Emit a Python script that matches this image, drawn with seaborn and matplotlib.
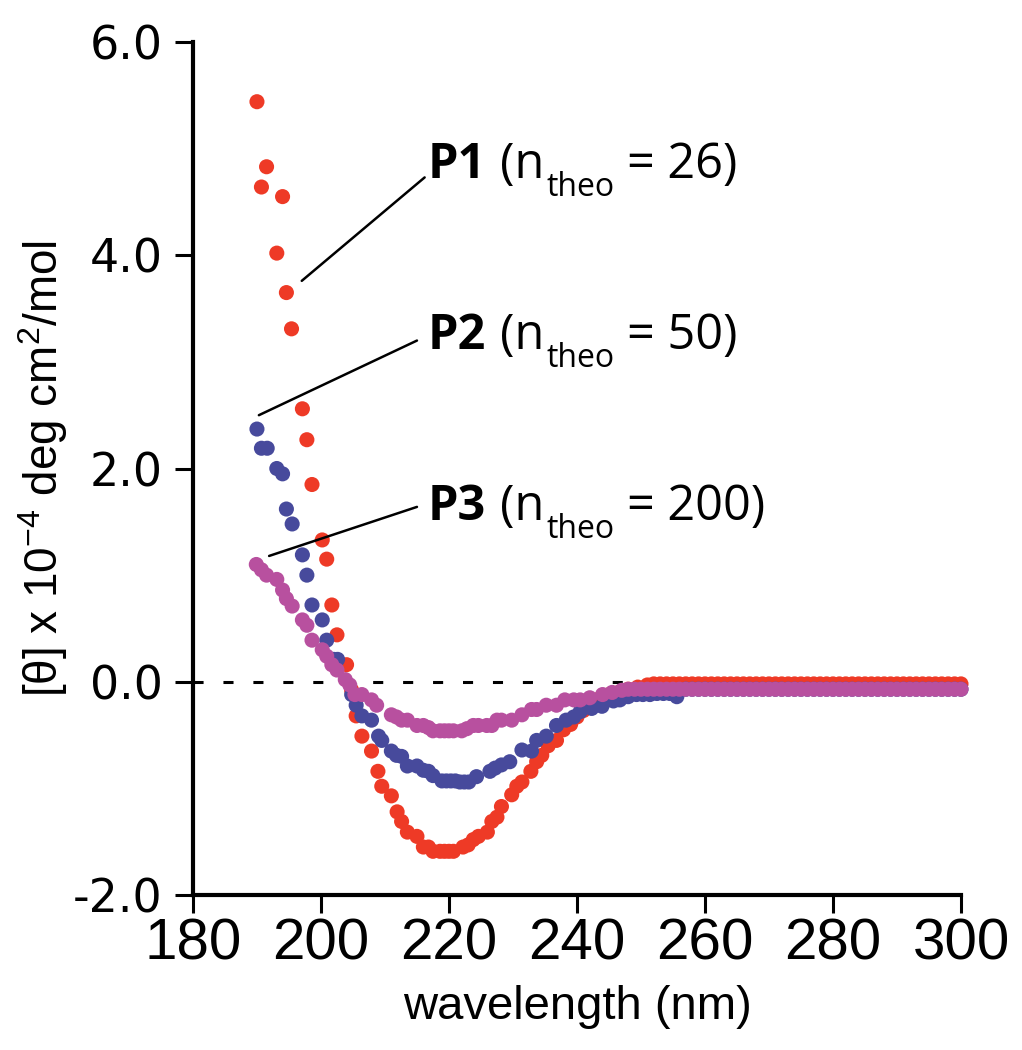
import numpy as np
import pandas as pd
import seaborn as sns
from matplotlib import pyplot as plt
from matplotlib.transforms import offset_copy

# circular dichroism spectra
P1_WL = [190.0, 190.7, 191.5, 193.1, 194.0, 194.6, 195.4, 197.1, 197.8, 198.6,
         200.2, 200.9, 201.7, 202.5, 204.0, 204.8, 205.5, 206.4, 207.9, 208.9,
         209.5, 211.0, 211.9, 212.6, 213.5, 215.0, 216.0, 216.8, 217.5, 218.6,
         219.3, 220.0, 220.7, 222.2, 223.0, 223.8, 224.6, 226.0, 226.7, 227.5,
         228.2, 229.8, 230.6, 231.4, 232.8, 233.7, 234.5, 235.5, 236.8, 237.9,
         239.0, 240.0, 241.0, 242.3, 243.5, 245.0, 246.5, 248.0, 249.5, 251.0,
         252, 253, 254, 255, 256, 257, 258, 259, 260, 261, 262, 263, 264, 265,
         266, 267, 268, 269, 270, 271, 272, 273, 274, 275, 276, 277, 278, 279,
         280, 281, 282, 283, 284, 285, 286, 287, 288, 289, 290, 291, 292, 293,
         294, 295, 296, 297, 298, 299, 300]
P1_VAL = [5.44, 4.64, 4.83, 4.02, 4.55, 3.65, 3.31, 2.56, 2.27, 1.85,
          1.33, 1.15, 0.72, 0.44, 0.16, -0.08, -0.32, -0.51, -0.65, -0.84,
          -0.98, -1.07, -1.22, -1.31, -1.41, -1.45, -1.55, -1.55, -1.59, -1.59,
          -1.59, -1.59, -1.59, -1.55, -1.53, -1.48, -1.45, -1.41, -1.31, -1.27,
          -1.17, -1.06, -0.98, -0.94, -0.84, -0.75, -0.69, -0.60, -0.55, -0.45,
          -0.40, -0.33, -0.27, -0.20, -0.16, -0.12, -0.10, -0.07, -0.05, -0.03,
          -0.02, -0.02, -0.02, -0.02, -0.02, -0.02, -0.02, -0.02, -0.02, -0.02,
          -0.02, -0.02, -0.02, -0.02, -0.02, -0.02, -0.02, -0.02, -0.02, -0.02,
          -0.02, -0.02, -0.02, -0.02, -0.02, -0.02, -0.02, -0.02, -0.02, -0.02,
          -0.02, -0.02, -0.02, -0.02, -0.02, -0.02, -0.02, -0.02, -0.02, -0.02,
          -0.02, -0.02, -0.02, -0.02, -0.02, -0.02, -0.02, -0.02, -0.02]

P2_WL = [190.0, 190.7, 191.6, 193.1, 194.0, 194.6, 195.5, 197.1, 197.8, 198.6,
         200.2, 200.9, 202.0, 202.6, 204.8, 205.5, 206.4, 207.9, 209.0, 209.5,
         211.0, 211.8, 212.6, 213.5, 215.0, 216.0, 216.8, 217.5, 218.9, 219.6,
         220.3, 221.0, 221.7, 222.4, 223.1, 224.3, 226.4, 227.2, 228.2, 229.5,
         231.4, 232.9, 233.7, 235.2, 236.8, 238.3, 239.5, 240.5, 242.3, 243.9,
         245.7, 246.7, 248.0, 249.3, 250.3, 251.4, 252.5, 253.5, 254.5, 255.6,
         257, 258, 259, 260, 261, 262, 263, 264, 265, 266, 267, 268, 269, 270,
         271, 272, 273, 274, 275, 276, 277, 278, 279, 280, 281, 282, 283, 284,
         285, 286, 287, 288, 289, 290, 291, 292, 293, 294, 295, 296, 297, 298,
         299, 300]
P2_VAL = [2.37, 2.19, 2.19, 2.00, 1.95, 1.62, 1.48, 1.19, 1.00, 0.72,
          0.58, 0.39, 0.21, 0.21, -0.12, -0.22, -0.32, -0.36, -0.51, -0.55,
          -0.65, -0.69, -0.70, -0.79, -0.79, -0.83, -0.84, -0.88, -0.93, -0.93,
          -0.93, -0.93, -0.94, -0.94, -0.94, -0.89, -0.84, -0.81, -0.78, -0.75,
          -0.64, -0.65, -0.55, -0.51, -0.41, -0.36, -0.33, -0.28, -0.25, -0.23,
          -0.18, -0.17, -0.14, -0.12, -0.12, -0.12, -0.11, -0.11, -0.11, -0.14,
          -0.07, -0.07, -0.07, -0.07, -0.07, -0.07, -0.07, -0.07, -0.07, -0.07,
          -0.07, -0.07, -0.07, -0.07, -0.07, -0.07, -0.07, -0.07, -0.07, -0.07,
          -0.07, -0.07, -0.07, -0.07, -0.07, -0.07, -0.07, -0.07, -0.07, -0.07,
          -0.07, -0.07, -0.07, -0.07, -0.07, -0.07, -0.07, -0.07, -0.07, -0.07,
          -0.07, -0.07, -0.07, -0.07]

P3_WL = [189.9, 190.7, 191.5, 193.1, 194.0, 194.6, 195.5, 197.1, 197.8, 198.6,
         200.2, 200.9, 201.7, 202.5, 203.8, 204.5, 205.3, 206.4, 207.9, 208.7,
         211.0, 211.8, 212.6, 213.5, 215.0, 216.0, 216.8, 217.5, 218.6, 219.3,
         220.0, 220.7, 222.0, 222.8, 223.8, 224.6, 225.9, 226.7, 227.5, 228.2,
         229.8, 231.4, 232.9, 233.7, 235.2, 236.8, 238.1, 239.5, 240.5, 242.0,
         244.0, 245.5, 247.0,
         248, 249, 250, 251, 252, 253, 254, 255, 256, 257, 258, 259, 260, 261,
         262, 263, 264, 265, 266, 267, 268, 269, 270, 271, 272, 273, 274, 275,
         276, 277, 278, 279, 280, 281, 282, 283, 284, 285, 286, 287, 288, 289,
         290, 291, 292, 293, 294, 295, 296, 297, 298, 299, 300]
P3_VAL = [1.10, 1.05, 1.00, 0.96, 0.86, 0.78, 0.71, 0.58, 0.53, 0.39,
          0.30, 0.24, 0.16, 0.11, 0.02, -0.03, -0.12, -0.12, -0.17, -0.22,
          -0.31, -0.33, -0.36, -0.36, -0.41, -0.41, -0.43, -0.46, -0.46, -0.46,
          -0.46, -0.46, -0.46, -0.44, -0.41, -0.41, -0.41, -0.41, -0.36, -0.36,
          -0.36, -0.31, -0.26, -0.26, -0.22, -0.22, -0.17, -0.17, -0.17, -0.15,
          -0.12, -0.10, -0.08,
          -0.07, -0.07, -0.07, -0.07, -0.07, -0.07, -0.07, -0.07, -0.07, -0.07,
          -0.07, -0.07, -0.07, -0.07, -0.07, -0.07, -0.07, -0.07, -0.07, -0.07,
          -0.07, -0.07, -0.07, -0.07, -0.07, -0.07, -0.07, -0.07, -0.07, -0.07,
          -0.07, -0.07, -0.07, -0.07, -0.07, -0.07, -0.07, -0.07, -0.07, -0.07,
          -0.07, -0.07, -0.07, -0.07, -0.07, -0.07, -0.07, -0.07, -0.07, -0.07,
          -0.07, -0.07, -0.07]

SAMPLES = ['P1', 'P2', 'P3']
N_THEO = [26, 50, 200]
COLORS = {'P1': '#ee3a26', 'P2': '#474a9c', 'P3': '#b8509f'}
X_TICKS = [180, 200, 220, 240, 260, 280, 300]
Y_TICKS = [-2.0, 0.0, 2.0, 4.0, 6.0]


def build_frame():
    parts = []
    for name, wl, val in [('P1', P1_WL, P1_VAL), ('P2', P2_WL, P2_VAL), ('P3', P3_WL, P3_VAL)]:
        parts.append(pd.DataFrame({'wavelength': wl, 'theta': val, 'sample': name}))
    return pd.concat(parts, ignore_index=True)


def label_pieces(ax, x, y, pieces):
    # lay text pieces out left to right, measuring each one
    fig = ax.figure
    renderer = fig.canvas.get_renderer()
    xp = 0
    for s, size, weight, dy, gap in pieces:
        tr = offset_copy(ax.transData, fig=fig, x=xp, y=dy, units='dots')
        t = ax.text(x, y, s, fontsize=size, weight=weight, transform=tr,
                    ha='left', va='baseline', color='black')
        xp += t.get_window_extent(renderer).width + gap


def main():
    df = build_frame()
    sns.set_theme(style='ticks')
    plt.rcParams['font.family'] = ['Open Sans', 'DejaVu Sans']
    plt.rcParams['mathtext.fontset'] = 'custom'
    plt.rcParams['mathtext.rm'] = 'Liberation Sans'
    for k in ['text.color', 'axes.labelcolor', 'xtick.color', 'ytick.color']:
        plt.rcParams[k] = 'black'

    fig = plt.figure(figsize=(10.22, 10.5), dpi=100)
    ax = fig.add_axes([0.1888, 0.1476, 0.7515, 0.8124])

    ax.axhline(0, color='black', lw=2.2, dashes=(3.3, 6.5), zorder=1)
    sns.scatterplot(data=df, x='wavelength', y='theta', hue='sample',
                    palette=COLORS, s=118, linewidth=0, edgecolor='none',
                    legend=False, ax=ax, clip_on=False, zorder=3)

    ax.set_xlim(180, 300)
    ax.set_ylim(-2, 6)
    sns.despine(ax=ax)
    for side in ['left', 'bottom']:
        ax.spines[side].set_linewidth(3.0)
        ax.spines[side].set_color('black')

    ax.set_xticks(X_TICKS)
    ax.set_yticks(Y_TICKS)
    ax.set_yticklabels([f'{v:.1f}' for v in Y_TICKS],
                       family=['DejaVu Sans'], fontsize=33)
    ax.set_xticklabels([str(v) for v in X_TICKS],
                       family=['Liberation Sans'], fontsize=42)
    ax.tick_params(axis='both', direction='out', length=13, width=2.2, color='black')
    ax.tick_params(axis='y', pad=9)
    ax.tick_params(axis='x', pad=3)

    ax.set_xlabel('wavelength (nm)', fontsize=34, family=['Liberation Sans'], labelpad=10)
    ax.set_ylabel(r'[θ] x 10$^{-4}$ deg cm$^{2}$/mol', fontsize=33,
                  family=['Liberation Sans'], labelpad=2)

    # labels with leader lines
    label_base = [(216.7, 4.72), (216.7, 3.12), (216.7, 1.52)]
    line_ends = [((197.0, 3.76), (216.2, 4.73)),
                 ((190.3, 2.50), (215.0, 3.20)),
                 ((191.9, 1.18), (215.0, 1.64))]
    fig.canvas.draw()
    for name, n, (tx, ty), (p0, p1) in zip(SAMPLES, N_THEO, label_base, line_ends):
        ax.plot([p0[0], p1[0]], [p0[1], p1[1]], color='black', lw=1.8, zorder=4)
        label_pieces(ax, tx, ty, [
            (name, 35, 'bold', 0, 14),
            ('(n', 35, 'normal', 0, 2),
            ('theo', 23, 'normal', -18, 12),
            ('= ' + str(n) + ')', 35, 'normal', 0, 0),
        ])

    fig.savefig('out.png', dpi=100)


if __name__ == '__main__':
    main()
